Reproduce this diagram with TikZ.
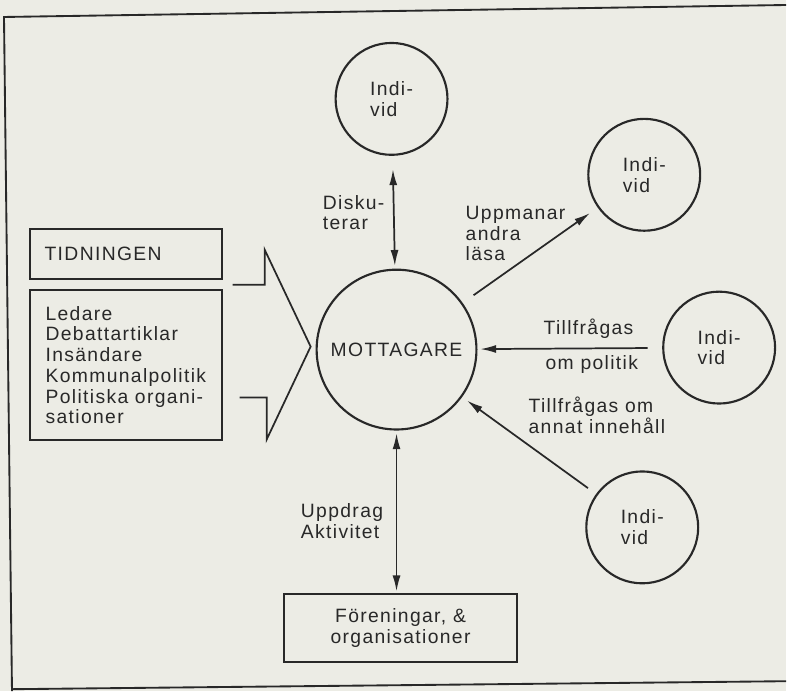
\documentclass[tikz,border=0pt]{standalone}
\usepackage{fontspec}
\setmainfont{Liberation Sans}[LetterSpace=7]
\usetikzlibrary{arrows.meta}
\definecolor{ink}{RGB}{40,40,40}
\definecolor{paper}{RGB}{236,236,229}

\begin{document}
\begin{tikzpicture}[x=0.75pt,y=0.75pt,yscale=-1,xscale=1,
  every node/.style={font=\fontsize{14.5}{15.6}\selectfont, text=ink, inner sep=0.75pt},
  person/.style={draw=ink, line width=1.6pt, circle, minimum size=84pt, align=left},
  boxed/.style={draw=ink, line width=1.4pt, rectangle},
  link/.style={draw=ink, line width=1.3pt, -{Latex[length=12pt,width=6pt]}},
  twoway/.style={draw=ink, line width=1.3pt, {Latex[length=12pt,width=6pt]}-{Latex[length=12pt,width=6pt]}}
]
%set diagram to the page, 787 x 692
\fill[paper] (0,0) rectangle (787,692);

%Straight Lines: frame
\draw[ink, line width=1.4pt] (787,5) -- (4,17) -- (12,692);
\draw[ink, line width=1.4pt] (12,690) -- (787,682);

%Shape: Circle
\node[person, minimum size=120pt] (mott) at (397,350) {MOTTAGARE};
%Shape: Circle
\node[person] (ind1) at (392,99) {Indi-\\vid};
%Shape: Circle
\node[person] (ind2) at (645,175) {Indi-\\vid};
%Shape: Circle
\node[person] (ind3) at (720,348) {Indi-\\vid};
%Shape: Circle
\node[person] (ind4) at (643,528) {Indi-\\vid};

%Shape: Rectangle
\node[boxed, minimum height=37.5pt, text width=122pt, inner xsep=11pt, align=left] (tid) at (126,254) {TIDNINGEN};
%Shape: Rectangle
\node[boxed, minimum width=144pt, minimum height=113pt, align=left] (innehall) at (126,365.5) {Ledare\\Debattartiklar\\Insändare\\Kommunalpolitik\\Politiska organi-\\sationer};
%Shape: Rectangle
\node[boxed, minimum width=175.5pt, minimum height=51pt, align=center] (fore) at (401,629) {Föreningar, \&\\organisationer};

%Shape: Polygon (open arrow)
\draw[ink, line width=1.3pt] (233,285) -- (265,285) -- (265,250) -- (311,347) -- (267,440) -- (267,398) -- (240,398);

%Straight Lines
\draw[twoway, shorten <=10pt, shorten >=2pt] (ind1) -- (mott);
%Straight Lines
\draw[twoway, shorten <=2pt, shorten >=1.5pt] (mott.south) -- (mott.south |- fore.north);
%Straight Lines
\draw[link, shorten <=10pt, shorten >=7pt] (mott) -- (ind2);
%Straight Lines
\draw[link, shorten <=11pt, shorten >=2pt] (ind3) -- (mott);
%Straight Lines
\draw[link, shorten <=7.5pt, shorten >=4.5pt] (ind4) -- (mott);

% Text Node
\node[anchor=north west, align=left] (diskLbl) at (322,194) {Disku-\\terar};
% Text Node
\node[anchor=north west, align=left] (uppmLbl) at (465,205) {Uppmanar\\andra\\läsa};
% Text Node
\node[anchor=south west] (tillLbl) at (543,340) {Tillfrågas};
% Text Node
\node[anchor=north west] (polLbl) at (545,355) {om politik};
% Text Node
\node[anchor=north west, align=left] (annatLbl) at (528,396) {Tillfrågas om\\annat innehåll};
% Text Node
\node[anchor=north west, align=left] (uppdLbl) at (300,503) {Uppdrag\\Aktivitet};

\end{tikzpicture}
\end{document}
